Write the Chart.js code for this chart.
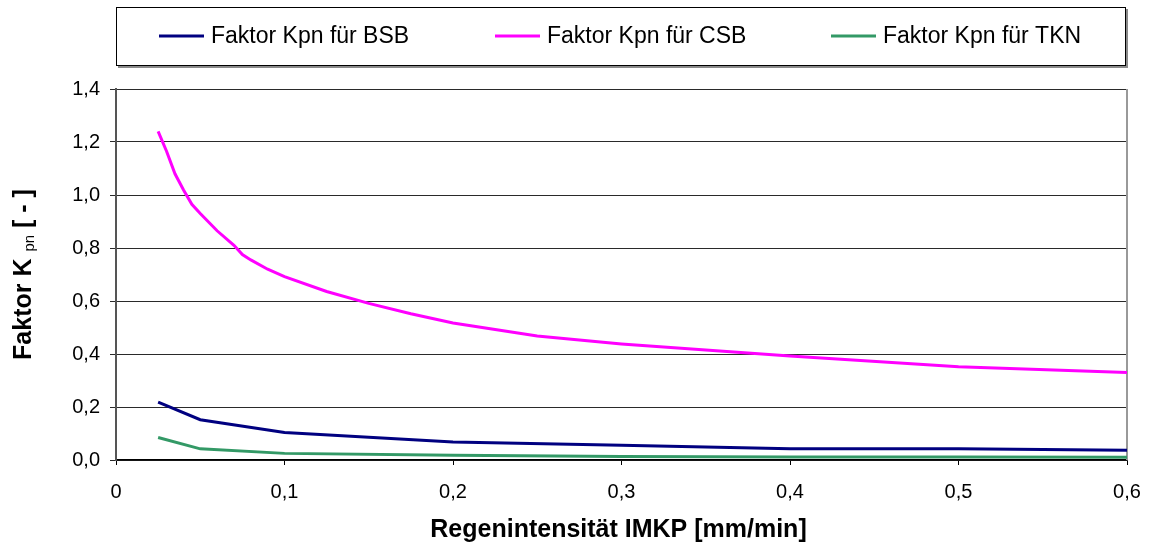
<!DOCTYPE html>
<html>
<head>
<meta charset="utf-8">
<script src="https://cdn.jsdelivr.net/npm/chart.js@4.4.0/dist/chart.umd.min.js"></script>
<style>
  html, body { margin: 0; padding: 0; background: #fff; }
  #wrap { width: 1152px; height: 547px; }
</style>
</head>
<body>
<div id="wrap"><canvas id="chart" width="1152" height="547"></canvas></div>
<script>
// Series labels and colours
const seriesLabels = ['Faktor Kpn für BSB', 'Faktor Kpn für CSB', 'Faktor Kpn für TKN'];
const seriesColors = ['#000080', '#FF00FF', '#339966'];

// Rain intensity IMKP [mm/min] and factor values
const csbX = [0.025, 0.03, 0.035, 0.04, 0.045, 0.05, 0.06, 0.07, 0.075, 0.08, 0.09, 0.1,
              0.125, 0.15, 0.175, 0.2, 0.25, 0.3, 0.4, 0.5, 0.6];
const csbY = [1.24, 1.165, 1.08, 1.02, 0.965, 0.93, 0.865, 0.81, 0.775, 0.755, 0.72, 0.692,
              0.636, 0.591, 0.552, 0.517, 0.468, 0.438, 0.392, 0.352, 0.330];

const bsbX = [0.025, 0.05, 0.1, 0.2, 0.3, 0.4, 0.5, 0.6];
const bsbY = [0.218, 0.152, 0.104, 0.068, 0.056, 0.042, 0.042, 0.037];

const tknX = [0.025, 0.05, 0.1, 0.2, 0.3, 0.4, 0.5, 0.6];
const tknY = [0.085, 0.042, 0.025, 0.018, 0.013, 0.011, 0.011, 0.010];

// Axis ranges and tick steps
const xMin = 0, xMax = 0.6, xStep = 0.1;
const yMin = 0, yMax = 1.4, yStep = 0.2;

// Axis titles
const xTitle = 'Regenintensität IMKP [mm/min]';
const yTitleMain = 'Faktor K';
const yTitleSub = 'pn';
const yTitleTail = ' [ - ]';

const FONT = '"Liberation Sans", Arial, Helvetica, sans-serif';

function toPoints(xs, ys) {
  return xs.map((x, i) => ({ x: x, y: ys[i] }));
}
function commaNum(v, digits) {
  const r = Math.round(v * 10) / 10;
  if (r === 0 && digits === 0) return '0';
  return (digits ? r.toFixed(digits) : String(r)).replace('.', ',');
}

// Boxed legend with drop shadow above the plot
const boxedLegend = {
  id: 'boxedLegend',
  afterDraw(chart) {
    const ctx = chart.ctx;
    const ca = chart.chartArea;
    const left = ca.left, right = ca.right - 1, top = 7, bottom = 66;
    ctx.save();
    ctx.fillStyle = '#8a8a8a';
    ctx.fillRect(left + 2, top + 2, right - left, bottom - top);
    ctx.fillStyle = '#fff';
    ctx.fillRect(left, top, right - left, bottom - top);
    ctx.strokeStyle = '#000';
    ctx.lineWidth = 1;
    ctx.strokeRect(left + 0.5, top + 0.5, right - left - 1, bottom - top - 1);
    const cy = 36;
    ctx.font = '23px ' + FONT;
    ctx.textBaseline = 'middle';
    ctx.textAlign = 'left';
    chart.data.datasets.forEach((ds, i) => {
      const x0 = left + 43 + i * 336;
      ctx.strokeStyle = ds.borderColor;
      ctx.lineWidth = 3;
      ctx.beginPath();
      ctx.moveTo(x0, cy);
      ctx.lineTo(x0 + 45, cy);
      ctx.stroke();
      ctx.fillStyle = '#000';
      ctx.fillText(ds.label, x0 + 52, cy + 1);
    });
    ctx.restore();
  }
};

// Axis titles (y title with subscript) and right plot border
const axisTitles = {
  id: 'axisTitles',
  beforeDatasetsDraw(chart) {
    const ctx = chart.ctx;
    const ca = chart.chartArea;
    ctx.save();
    ctx.strokeStyle = '#999';
    ctx.lineWidth = 2;
    ctx.beginPath();
    ctx.moveTo(ca.right, ca.top);
    ctx.lineTo(ca.right, ca.bottom);
    ctx.stroke();
    ctx.restore();
  },
  afterDraw(chart) {
    const ctx = chart.ctx;
    const ca = chart.chartArea;
    ctx.save();
    ctx.fillStyle = '#000';
    // x title
    ctx.font = 'bold 25px ' + FONT;
    ctx.textAlign = 'center';
    ctx.textBaseline = 'alphabetic';
    ctx.fillText(xTitle, (ca.left + ca.right) / 2 - 3, 537);

    // y title, rotated
    const bigFont = 'bold 25px ' + FONT;
    const subFont = '15px ' + FONT;
    ctx.font = bigFont;
    const w1 = ctx.measureText(yTitleMain + ' ').width;
    const w3 = ctx.measureText(yTitleTail).width;
    ctx.font = subFont;
    const w2 = ctx.measureText(yTitleSub).width;
    const total = w1 + w2 + w3;
    ctx.translate(31, (ca.top + ca.bottom) / 2);
    ctx.rotate(-Math.PI / 2);
    ctx.textAlign = 'left';
    let x = -total / 2;
    ctx.font = bigFont;
    ctx.fillText(yTitleMain + ' ', x, 0);
    x += w1;
    ctx.font = subFont;
    ctx.fillText(yTitleSub, x, 3);
    x += w2;
    ctx.font = bigFont;
    ctx.fillText(yTitleTail, x, 0);
    ctx.restore();
  }
};

const datasets = [
  { label: seriesLabels[0], data: toPoints(bsbX, bsbY), borderColor: seriesColors[0] },
  { label: seriesLabels[1], data: toPoints(csbX, csbY), borderColor: seriesColors[1] },
  { label: seriesLabels[2], data: toPoints(tknX, tknY), borderColor: seriesColors[2] }
].map(ds => Object.assign(ds, {
  showLine: true, borderWidth: 3, pointRadius: 0, pointHoverRadius: 0,
  tension: 0, fill: false, backgroundColor: ds.borderColor
}));

new Chart(document.getElementById('chart'), {
  type: 'scatter',
  data: { datasets: datasets },
  options: {
    responsive: false,
    animation: false,
    devicePixelRatio: 1,
    layout: { padding: { top: 89, right: 25, left: 0, bottom: 0 } },
    plugins: { legend: { display: false }, tooltip: { enabled: false } },
    scales: {
      x: {
        type: 'linear', min: xMin, max: xMax,
        ticks: {
          stepSize: xStep, color: '#000', padding: 15, maxRotation: 0, autoSkip: false,
          font: { family: FONT, size: 20 },
          callback: v => commaNum(v, 0)
        },
        grid: { drawOnChartArea: false, drawTicks: true, tickLength: 5, color: '#000' },
        border: { color: '#000', width: 1.5 },
        afterFit(s) { s.height = 87; s.paddingLeft = 0; s.paddingRight = 0; }
      },
      y: {
        type: 'linear', min: yMin, max: yMax,
        ticks: {
          stepSize: yStep, color: '#000', padding: 10,
          font: { family: FONT, size: 20 },
          callback: v => commaNum(v, 1)
        },
        grid: { color: '#2a2a2a', lineWidth: 1, tickLength: 6 },
        border: { color: '#555', width: 2 },
        afterFit(s) { s.width = 116; s.paddingTop = 0; s.paddingBottom = 0; }
      }
    }
  },
  plugins: [axisTitles, boxedLegend]
});
</script>
</body>
</html>
